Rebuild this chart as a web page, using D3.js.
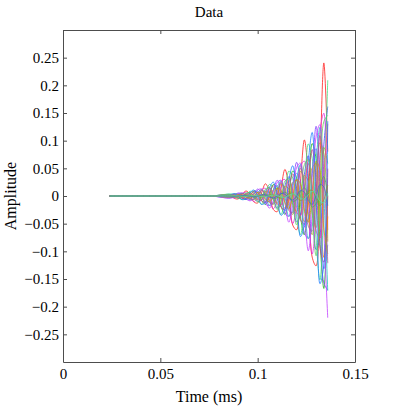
<!DOCTYPE html>
<html>
<head>
<meta charset="utf-8">
<script src="https://cdn.jsdelivr.net/npm/d3@7"></script>
<style>
	body{margin:0;background:#fff;}
	.DataLine{fill:none;stroke-width:0.8;}
	.ChartAxis text{font-family:"Liberation Serif","Times New Roman",serif;font-size:15px;fill:#000;}
	.ChartAxis path,.ChartAxis line{stroke:#4d4d4d;}
	.ChartLabel{font-family:"Liberation Serif","Times New Roman",serif;font-size:16px;fill:#000;}
</style>
</head>
<body>
<div id="idChart"></div>
<script>
// time base of every trace (ms)
var aTimeMs=[0.024,0.060,0.076,0.086,0.088,0.090,0.092,0.094,0.096,0.098,0.100,0.102,0.104,0.106,0.108,0.110,0.112,0.114,0.116,0.118,0.120,0.122,0.124,0.126,0.128,0.130,0.132,0.134,0.136];

// amplitude of each trace
var aTrace01=[0,0,0,.0014,-.0042,-.0053,.0024,.0091,.0032,-.0105,-.0126,.0056,.0221,.0080,-.0242,-.0284,.0129,.0481,.0173,-.0526,-.0610,.0269,.1014,.0362,-.1104,-.1262,.0582,.2405,.0803];
var aTrace02=[0,0,0,0,.0036,.0028,-.0034,-.0063,0,.0090,.0067,-.0078,-.0154,0,.0208,.0151,-.0179,-.0334,0,.0452,.0324,-.0375,-.0704,0,.0948,.0671,-.0811,-.1671,0];
var aTrace03=[0,0,0,.0028,0,-.0040,-.0030,.0035,.0065,0,-.0097,-.0070,.0085,.0162,0,-.0218,-.0160,.0185,.0347,0,-.0469,-.0335,.0390,.0727,0,-.0970,-.0725,.0925,.1616];
var aTrace04=[0,0,0,-.0011,-.0040,-.0015,.0049,.0057,-.0025,-.0100,-.0037,.0113,.0138,-.0062,-.0230,-.0083,.0259,.0299,-.0133,-.0500,-.0179,.0542,.0631,-.0278,-.1050,-.0371,.1173,.1497,-.0618];
var aTrace05=[0,0,0,-.0014,-.0027,0,.0040,.0029,-.0033,-.0067,0,.0093,.0070,-.0082,-.0153,0,.0213,.0152,-.0177,-.0333,0,.0446,.0321,-.0371,-.0699,0,.0966,.0762,-.0824];
var aTrace06=[0,0,0,-.0030,.0013,.0053,.0019,-.0059,-.0068,.0032,.0126,.0045,-.0144,-.0170,.0075,.0284,.0104,-.0314,-.0365,.0162,.0609,.0217,-.0662,-.0764,.0340,.1260,.0470,-.1571,-.1698];
var aTrace07=[0,0,0,-.0030,-.0021,.0026,.0051,0,-.0068,-.0053,.0063,.0120,0,-.0171,-.0122,.0143,.0274,0,-.0368,-.0265,.0307,.0574,0,-.0770,-.0555,.0635,.1241,0,-.1712];
var aTrace08=[0,0,0,-.0006,.0019,.0024,-.0011,-.0042,-.0015,.0049,.0058,-.0026,-.0102,-.0037,.0112,.0131,-.0059,-.0222,-.0080,.0243,.0281,-.0124,-.0468,-.0167,.0509,.0582,-.0268,-.1110,-.0370];
var aTrace09=[0,0,0,.0037,.0026,-.0032,-.0063,0,.0084,.0065,-.0078,-.0146,0,.0209,.0149,-.0175,-.0335,0,.0450,.0324,-.0375,-.0701,0,.0941,.0679,-.0776,-.1517,0,.2092];
var aTrace10=[0,0,0,.0009,.0032,.0012,-.0039,-.0045,.0020,.0080,.0030,-.0091,-.0110,.0049,.0184,.0067,-.0207,-.0239,.0106,.0400,.0143,-.0433,-.0505,.0222,.0840,.0296,-.0938,-.1197,.0494];
var aTrace11=[0,0,0,-.0015,.0018,.0036,0,-.0050,-.0035,.0044,.0086,0,-.0121,-.0088,.0101,.0193,0,-.0264,-.0190,.0221,.0414,0,-.0556,-.0397,.0463,.0856,0,-.1319,-.0882];
var aTrace12=[0,0,0,-.0039,-.0014,.0045,.0053,-.0024,-.0088,-.0034,.0107,.0125,-.0058,-.0220,-.0078,.0240,.0285,-.0126,-.0473,-.0170,.0516,.0596,-.0265,-.0990,-.0357,.1068,.1291,-.0629,-.2200];
var aTrace13=[0,0,0,.0010,-.0012,-.0024,0,.0033,.0024,-.0029,-.0057,0,.0081,.0059,-.0068,-.0129,0,.0176,.0126,-.0147,-.0276,0,.0371,.0265,-.0309,-.0571,0,.0881,.0588];
var aTrace14=[0,0,0,.0023,.0008,-.0026,-.0032,.0014,.0052,.0020,-.0063,-.0074,.0034,.0130,.0046,-.0142,-.0168,.0074,.0280,.0101,-.0305,-.0352,.0157,.0585,.0211,-.0631,-.0763,.0372,.1300];
var aTrace15=[0,0,0,.0024,.0044,0,-.0066,-.0047,.0054,.0109,0,-.0153,-.0115,.0135,.0252,0,-.0350,-.0250,.0291,.0547,0,-.0733,-.0527,.0608,.1149,0,-.1586,-.1251,.1352];
var aTrace16=[0,0,0,.0025,-.0011,-.0045,-.0017,.0051,.0058,-.0028,-.0108,-.0039,.0124,.0146,-.0064,-.0243,-.0089,.0269,.0313,-.0139,-.0522,-.0186,.0568,.0655,-.0292,-.1080,-.0403,.1347,.1456];
var aTrace17=[0,0,0,-.0018,0,.0026,.0019,-.0023,-.0042,0,.0063,.0045,-.0055,-.0105,0,.0141,.0103,-.0120,-.0225,0,.0303,.0216,-.0252,-.0471,0,.0628,.0468,-.0598,-.1046];
var aTrace18=[0,0,0,-.0021,-.0024,.0012,.0045,.0016,-.0049,-.0061,.0028,.0105,.0039,-.0121,-.0140,.0063,.0240,.0086,-.0261,-.0304,.0135,.0503,.0181,-.0546,-.0637,.0278,.1088,.0429,-.1214];
var aTrace19=[0,0,0,0,-.0008,-.0006,.0007,.0013,0,-.0019,-.0014,.0017,.0032,0,-.0044,-.0032,.0038,.0070,0,-.0095,-.0068,.0079,.0148,0,-.0200,-.0142,.0171,.0352,0];
var aTrace20=[0,0,0,.0003,.0004,-.0002,-.0007,-.0003,.0008,.0010,-.0004,-.0017,-.0006,.0019,.0022,-.0010,-.0038,-.0014,.0042,.0049,-.0021,-.0080,-.0029,.0087,.0102,-.0044,-.0174,-.0068,.0194];
var aTrace21=[0,0,0,-.0003,-.0006,0,.0009,.0006,-.0007,-.0014,0,.0020,.0015,-.0018,-.0033,0,.0046,.0033,-.0038,-.0072,0,.0096,.0069,-.0079,-.0150,0,.0207,.0163,-.0176];
var aTrace22=[0,0,0,.0001,.0003,.0001,-.0004,-.0005,.0002,.0008,.0003,-.0009,-.0011,.0005,.0018,.0007,-.0021,-.0024,.0011,.0040,.0015,-.0044,-.0051,.0023,.0084,.0030,-.0094,-.0120,.0050];

var aTraceColours=["#ff2020","#20b020","#4040ff","#e030e0","#b0b020","#8040ff","#20c0c0","#ff8000","#40e080","#c04080","#6080ff",
	"#c040ff","#80c040","#ff4080","#2080ff","#60d060","#d0a000","#a060a0","#50a070","#909040","#4070c0","#60e0a0"];

var aXTicks=[0,0.05,0.1,0.15];
var aYTicks=[-0.25,-0.2,-0.15,-0.1,-0.05,0,0.05,0.1,0.15,0.2,0.25];

function DrawTraces()
{
	var iWidth=393;
	var iHeight=408;
	var iLeft=63;
	var iRight=355;
	var iTop=30;
	var iBottom=362;
	var iTick=4;

	var aTraces=[aTrace01,aTrace02,aTrace03,aTrace04,aTrace05,aTrace06,aTrace07,aTrace08,aTrace09,aTrace10,aTrace11,
		aTrace12,aTrace13,aTrace14,aTrace15,aTrace16,aTrace17,aTrace18,aTrace19,aTrace20,aTrace21,aTrace22];

	var myCanvas=d3.select("#idChart").append("svg")
		.attr("width",iWidth)
		.attr("height",iHeight);

	var xAxes=d3.scaleLinear().domain([0,0.15]).range([iLeft,iRight]);
	var yAxes=d3.scaleLinear().domain([-0.3,0.3]).range([iBottom,iTop]);

	myCanvas.append("defs").append("clipPath")
		.attr("id","idPlotClip")
		.append("rect")
		.attr("x",iLeft)
		.attr("y",iTop)
		.attr("width",iRight-iLeft)
		.attr("height",iBottom-iTop);

	var myLine=d3.line()
		.x(function(myValue,i) { return xAxes(aTimeMs[i]); })
		.y(function(myValue) { return yAxes(myValue); })
		.curve(d3.curveCatmullRom.alpha(0.5));

	myCanvas.append("g")
		.attr("clip-path","url(#idPlotClip)")
		.selectAll(".DataLine")
		.data(aTraces)
		.enter().append("path")
			.attr("class","DataLine")
			.attr("stroke",function(myTrace,i) { return aTraceColours[i%aTraceColours.length]; })
			.attr("d",myLine);

	var fmtTick=d3.format("~g");

	myCanvas.append("g")
		.attr("class","ChartAxis")
		.attr("transform","translate(0,"+iBottom+")")
		.call(d3.axisBottom(xAxes).tickValues(aXTicks).tickFormat(fmtTick).tickSizeInner(-iTick).tickSizeOuter(0).tickPadding(6));

	myCanvas.append("g")
		.attr("class","ChartAxis")
		.attr("transform","translate(0,"+iTop+")")
		.call(d3.axisTop(xAxes).tickValues(aXTicks).tickFormat("").tickSizeInner(-iTick).tickSizeOuter(0));

	myCanvas.append("g")
		.attr("class","ChartAxis")
		.attr("transform","translate("+iLeft+",0)")
		.call(d3.axisLeft(yAxes).tickValues(aYTicks).tickFormat(fmtTick).tickSizeInner(-iTick).tickSizeOuter(0).tickPadding(4));

	myCanvas.append("g")
		.attr("class","ChartAxis")
		.attr("transform","translate("+iRight+",0)")
		.call(d3.axisRight(yAxes).tickValues(aYTicks).tickFormat("").tickSizeInner(-iTick).tickSizeOuter(0));

	myCanvas.append("text")
		.attr("class","ChartLabel")
		.attr("text-anchor","middle")
		.attr("x",(iLeft+iRight)/2)
		.attr("y",17)
		.style("font-size","15px")
		.text("Data");

	myCanvas.append("text")
		.attr("class","ChartLabel")
		.attr("text-anchor","middle")
		.attr("x",(iLeft+iRight)/2)
		.attr("y",402)
		.text("Time (ms)");

	myCanvas.append("text")
		.attr("class","ChartLabel")
		.attr("text-anchor","middle")
		.attr("transform","translate(16,"+((iTop+iBottom)/2)+") rotate(-90)")
		.text("Amplitude");
}

DrawTraces();
</script>
</body>
</html>
